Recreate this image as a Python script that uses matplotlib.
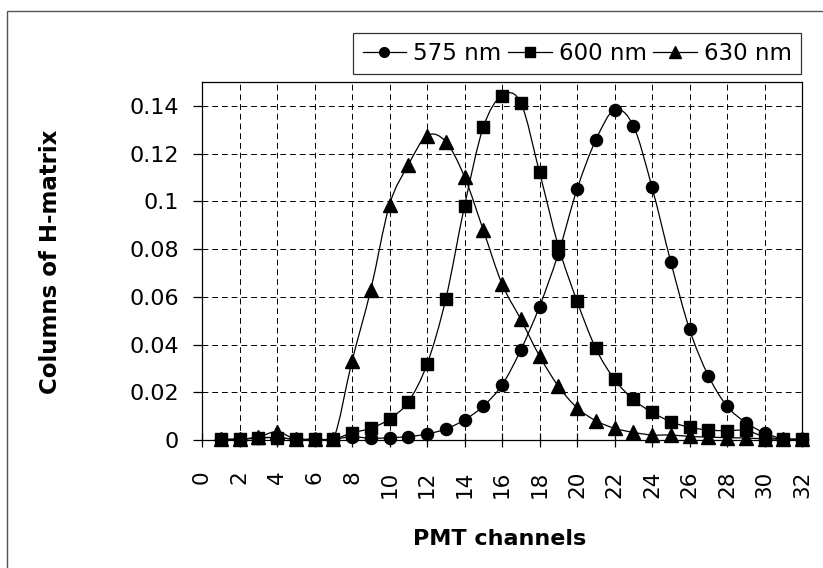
import numpy as np
import matplotlib
matplotlib.use("Agg")
import matplotlib.pyplot as plt
from matplotlib.path import Path
from matplotlib.patches import PathPatch, Rectangle
from matplotlib.lines import Line2D

plt.rcParams["font.family"] = ["DejaVu Sans"]

# ---------------- Data ----------------
channels = list(range(1, 33))

h_575 = [0.0003, 0.0003, 0.0008, 0.0010, 0.0003, 0.0003, 0.0003, 0.0014,
         0.0007, 0.0010, 0.0014, 0.0025, 0.0046, 0.0084, 0.0142, 0.0230,
         0.0377, 0.0559, 0.0780, 0.1050, 0.1256, 0.1383, 0.1317, 0.1059,
         0.0747, 0.0464, 0.0270, 0.0142, 0.0073, 0.0030, 0.0005, 0.0003]

h_600 = [0.0003, 0.0003, 0.0010, 0.0010, 0.0003, 0.0003, 0.0003, 0.0030,
         0.0049, 0.0088, 0.0160, 0.0317, 0.0590, 0.0980, 0.1310, 0.1443,
         0.1413, 0.1122, 0.0814, 0.0582, 0.0384, 0.0254, 0.0170, 0.0116,
         0.0077, 0.0053, 0.0042, 0.0039, 0.0040, 0.0014, 0.0004, 0.0004]

h_630 = [0.0003, 0.0003, 0.0012, 0.0035, 0.0003, 0.0003, 0.0003, 0.0330,
         0.0629, 0.0985, 0.1152, 0.1275, 0.1250, 0.1103, 0.0880, 0.0654,
         0.0506, 0.0352, 0.0226, 0.0135, 0.0081, 0.0049, 0.0032, 0.0021,
         0.0021, 0.0015, 0.0012, 0.0010, 0.0008, 0.0005, 0.0003, 0.0003]

series = [("575 nm", h_575, "o"), ("600 nm", h_600, "s"), ("630 nm", h_630, "^")]

x_ticks = list(range(0, 33, 2))
y_ticks = [0, 0.02, 0.04, 0.06, 0.08, 0.1, 0.12, 0.14]
y_ticklabels = ["0", "0.02", "0.04", "0.06", "0.08", "0.1", "0.12", "0.14"]


def smooth_path(x, y):
    # Excel-style smoothed line: Catmull-Rom segments as cubic Bezier
    pts = np.column_stack([x, y]).astype(float)
    n = len(pts)
    verts = [pts[0]]
    codes = [Path.MOVETO]
    for i in range(n - 1):
        p0 = pts[i - 1] if i > 0 else pts[i]
        p1 = pts[i]
        p2 = pts[i + 1]
        p3 = pts[i + 2] if i + 2 < n else pts[i + 1]
        c1 = p1 + (p2 - p0) / 6.0
        c2 = p2 - (p3 - p1) / 6.0
        verts += [c1, c2, p2]
        codes += [Path.CURVE4] * 3
    return Path(verts, codes)


# ---------------- Plot ----------------
fig = plt.figure(figsize=(8.23, 5.68), dpi=100)
ax = fig.add_axes([202 / 823, 1 - 440 / 568, 600 / 823, 358 / 568])

for label, vals, mk in series:
    ax.add_patch(PathPatch(smooth_path(channels, vals), facecolor="none",
                           edgecolor="black", lw=0.9, zorder=3))
    ax.plot(channels, vals, linestyle="none", marker=mk, color="black",
            markersize=8.7 if mk != "^" else 9.7, zorder=4, clip_on=False)

ax.set_xlim(0, 32)
ax.set_ylim(0, 0.15)
ax.set_xticks(x_ticks)
ax.set_xticklabels([str(t) for t in x_ticks], rotation=90, fontsize=15.5)
ax.set_yticks(y_ticks)
ax.set_yticklabels(y_ticklabels, fontsize=16)
ax.tick_params(axis="x", direction="inout", length=10, width=0.9, pad=17)
ax.tick_params(axis="y", direction="out", length=6.5, width=0.9, pad=10)

ax.grid(True, color="black", linestyle=(0, (6, 4)), linewidth=0.7)
for s in ax.spines.values():
    s.set_linewidth(0.9)
    s.set_color("black")

fig.text(500 / 823, 1 - 539 / 568, "PMT channels", fontsize=16,
         fontweight="bold", ha="center", va="center")
fig.text(51 / 823, 1 - 262 / 568, "Columns of H-matrix", fontsize=16.5,
         fontweight="bold", ha="center", va="center", rotation=90)

handles = [Line2D([], [], color="black", lw=0.9, marker=mk,
                  markersize=7 if mk != "^" else 8)
           for _, _, mk in series]
leg = fig.legend(handles, [lab for lab, _, _ in series], loc="upper right",
                 bbox_to_anchor=(801 / 823, 1 - 33 / 568), fontsize=16.5,
                 ncol=3, frameon=True, fancybox=False, edgecolor="black",
                 handlelength=1.9, handletextpad=0.3, columnspacing=0.3,
                 borderpad=0.4, borderaxespad=0)
leg.get_frame().set_linewidth(0.9)

# chart area border (top and left visible)
fig.patches.append(Rectangle((7 / 823, -0.1), 1.2, 1 - 11 / 568 + 0.1,
                             transform=fig.transFigure, fill=False,
                             edgecolor="#555555", lw=1.0))

fig.savefig("out.png", dpi=100)
